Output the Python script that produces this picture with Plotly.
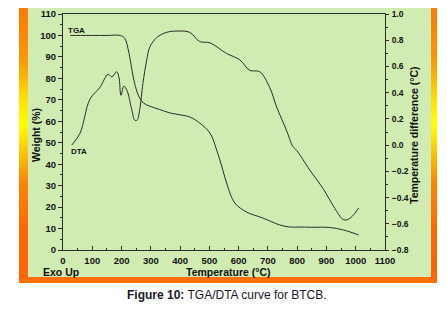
import plotly.graph_objects as go

# ---------------- data ----------------
tga_temp = [25, 60, 100, 150, 195, 211, 225, 240, 250, 260, 275, 297, 330, 365, 400, 433,
            467, 502, 525, 543, 563, 587, 627, 683, 740, 775, 809, 850, 911, 959, 1010]
tga_weight = [100, 100, 100, 100, 100, 98.6, 92, 80.6, 75, 71.3, 68.5, 67, 65.5, 63.9, 63, 62,
              59.2, 54.5, 46.6, 38.7, 29.4, 21.9, 17.7, 14.9, 11.7, 10.7, 10.7, 10.6, 10.5, 9.3, 7]

dta_temp = [30, 58, 92, 126, 154, 167, 183, 191, 198, 208, 218, 235, 245, 253, 262, 273, 286,
            297, 320, 354, 393, 433, 467, 502, 558, 604, 638, 672, 706, 730, 764, 785, 798,
            843, 891, 925, 959, 979, 997, 1010]
dta_diff = [0.00, 0.09, 0.35, 0.44, 0.54, 0.52, 0.56, 0.52, 0.38, 0.45, 0.42, 0.27, 0.19, 0.19,
            0.27, 0.47, 0.65, 0.75, 0.82, 0.86, 0.87, 0.86, 0.79, 0.78, 0.70, 0.65, 0.57, 0.56,
            0.44, 0.29, 0.11, -0.01, -0.04, -0.19, -0.34, -0.47, -0.57, -0.56, -0.52, -0.48]

x_ticks = list(range(0, 1101, 100))
y_ticks = list(range(0, 111, 10))
y2_ticks = [-0.8, -0.6, -0.4, -0.2, 0.0, 0.2, 0.4, 0.6, 0.8, 1.0]

# ---------------- layout helpers ----------------
# the page body has an 8px margin, so the figure is offset by 8px on both axes
OFF = 8
W, H = 447 - 2 * OFF, 311 - 2 * OFF
L, T, PW, PH = 63 - OFF, 14 - OFF, 322, 236   # plot area in figure pixels


def px(x):  # x in page pixels -> paper
    return (x - OFF - L) / PW


def py(y):  # y in page pixels -> paper
    return (T + PH - (y - OFF)) / PH


FONT = "Arial, Liberation Sans, sans-serif"
LINE = "#2b2b2b"


def frame_color(y):
    stops = [(3, (255, 118, 0)), (60, (255, 150, 0)), (100, (255, 225, 0)), (125, (255, 255, 0)),
             (150, (255, 200, 0)), (185, (255, 130, 0)), (230, (255, 105, 0)), (283, (255, 100, 0))]
    for (y0, c0), (y1, c1) in zip(stops[:-1], stops[1:]):
        if y0 <= y <= y1:
            f = (y - y0) / (y1 - y0)
            return "rgb(%d,%d,%d)" % tuple(round(a + (b - a) * f) for a, b in zip(c0, c1))
    return "rgb(255,100,0)"


shapes = [dict(type="rect", xref="paper", yref="paper", x0=px(19), x1=px(437), y0=py(3), y1=py(283),
               fillcolor="#ff6e00", line=dict(width=0), layer="below")]
step = 3
for yy in range(8, 277, step):
    c = frame_color(yy + step / 2)
    for xa, xb in ((19, 28), (431, 437)):
        shapes.append(dict(type="rect", xref="paper", yref="paper", x0=px(xa), x1=px(xb),
                           y0=py(yy), y1=py(yy + step + 0.5), fillcolor=c, line=dict(width=0),
                           layer="below"))
shapes.append(dict(type="rect", xref="paper", yref="paper", x0=px(28), x1=px(431), y0=py(8), y1=py(277),
                   fillcolor="#d1ecb3", line=dict(width=0), layer="below"))

fig = go.Figure()
fig.add_trace(go.Scatter(x=tga_temp, y=tga_weight, mode="lines", line=dict(color=LINE, width=1),
                         line_shape="spline", showlegend=False))
fig.add_trace(go.Scatter(x=dta_temp, y=dta_diff, mode="lines", yaxis="y2", line=dict(color=LINE, width=1),
                         line_shape="spline", showlegend=False))

tickfont = dict(family=FONT, size=9.5, color="#111", weight="bold")
tickfont_r = dict(family=FONT, size=8.5, color="#111", weight="bold")
titlefont = dict(family=FONT, size=10.5, color="#111", weight="bold")


def ann(text, x, y, font, xanchor="center", angle=0):
    return dict(text=text, x=px(x), y=py(y), xref="paper", yref="paper", xanchor=xanchor,
                yanchor="middle", textangle=angle, showarrow=False, font=font)


small = dict(family=FONT, size=8, color="#111", weight="bold")
annotations = [
    ann("Weight (%)", 36, 135, titlefont, angle=-90),
    ann("Temperature difference (°C)", 414, 135, titlefont, angle=-90),
    ann("Temperature (°C)", 228, 272, titlefont),
    ann("Exo Up", 41, 272, titlefont, xanchor="left"),
    ann("TGA", 66, 30, small, xanchor="left"),
    ann("DTA", 69, 151, small, xanchor="left"),
    ann("<b>Figure 10:</b> TGA/DTA curve for BTCB.", 227, 295,
        dict(family=FONT, size=12, color="#1a1a2a")),
]

fig.update_layout(
    template="none",
    width=W, height=H,
    margin=dict(l=L, r=W - L - PW, t=T, b=H - T - PH, pad=0, autoexpand=False),
    paper_bgcolor="white", plot_bgcolor="rgba(0,0,0,0)",
    shapes=shapes, annotations=annotations,
    xaxis=dict(range=[0, 1100], tickvals=x_ticks, ticks="inside", ticklen=4, tickwidth=1,
               tickcolor=LINE, showgrid=False, zeroline=False, showline=True, linecolor=LINE,
               linewidth=1, mirror=True, tickfont=tickfont, ticklabelstandoff=2, automargin=False,
               minor=dict(dtick=50, ticks="inside", ticklen=2, tickcolor=LINE, showgrid=False)),
    yaxis=dict(range=[0, 110], tickvals=y_ticks, ticks="outside", ticklen=4, tickwidth=1,
               tickcolor=LINE, showgrid=False, zeroline=False, showline=True, linecolor=LINE,
               linewidth=1, tickfont=tickfont, automargin=False,
               minor=dict(dtick=5, ticks="outside", ticklen=2, tickcolor=LINE, showgrid=False)),
    yaxis2=dict(range=[-0.8, 1.0], tickvals=y2_ticks, tickformat=".1f", overlaying="y", side="right",
                ticks="outside", ticklen=3, tickwidth=1, tickcolor=LINE, showgrid=False,
                zeroline=False, showline=True, linecolor=LINE, linewidth=1, tickfont=tickfont_r,
                automargin=False, ticklabelstandoff=1,
                minor=dict(dtick=0.1, ticks="outside", ticklen=2, tickcolor=LINE, showgrid=False)),
)

fig.write_html("out.html")
